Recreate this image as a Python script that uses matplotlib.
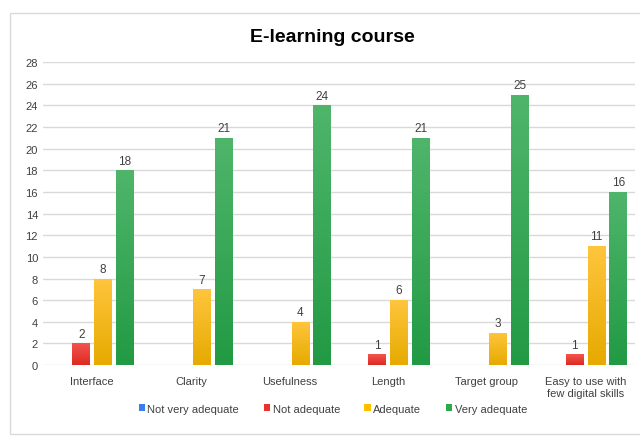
import numpy as np
import matplotlib.pyplot as plt
from matplotlib.colors import LinearSegmentedColormap
from matplotlib.patches import Rectangle

plt.rcParams['font.family'] = ['Liberation Sans', 'DejaVu Sans']

categories = ['Interface', 'Clarity', 'Usefulness', 'Length', 'Target group',
              'Easy to use with\nfew digital skills']
series_names = ['Not very adequate', 'Not adequate', 'Adequate', 'Very adequate']
not_very_adequate = [0, 0, 0, 0, 0, 0]
not_adequate = [2, 0, 0, 1, 0, 1]
adequate = [8, 7, 4, 6, 3, 11]
very_adequate = [18, 21, 24, 21, 25, 16]
series = [not_very_adequate, not_adequate, adequate, very_adequate]

# (top colour, bottom colour, legend colour)
colors = [('#5a93f0', '#2f6fd6', '#3b7ee8'),
          ('#f2554d', '#dd2a22', '#e8342c'),
          ('#ffc53d', '#e6aa00', '#ffc000'),
          ('#4fb56b', '#229a44', '#2ea84d')]

fig = plt.figure(figsize=(6.4, 4.39), dpi=100)
fig.patches.append(Rectangle((10 / 640, 4 / 439), 640 / 640, 421 / 439,
                             transform=fig.transFigure, fill=False,
                             edgecolor='#d9d9d9', linewidth=1))
ax = fig.add_axes([0.067, 0.166, 0.925, 0.69])

x = np.arange(len(categories))
slot = 0.222
width = 0.182
grad = np.linspace(0, 1, 100).reshape(-1, 1)

for i, (vals, (top, bot, _)) in enumerate(zip(series, colors)):
    cmap = LinearSegmentedColormap.from_list('g%d' % i, [bot, top])
    offs = (i - 1.5) * slot
    for xi, v in zip(x, vals):
        if v <= 0:
            continue
        x0 = xi + offs - width / 2
        im = ax.imshow(grad, cmap=cmap, aspect='auto', origin='lower',
                       extent=(x0, x0 + width, 0, v), zorder=2)
        rect = Rectangle((x0, 0), width, v, facecolor='none', edgecolor='none')
        ax.add_patch(rect)
        im.set_clip_path(rect)
        ax.text(xi + offs, v + 0.35, str(v), ha='center', va='bottom',
                fontsize=8.5, color='#404040', zorder=3)

for j, name in enumerate(series_names):
    ax.bar([0], [0], color=colors[j][2], label=name)

ax.set_xlim(-0.5, len(categories) - 0.5)
ax.set_ylim(0, 28)
ax.set_yticks(np.arange(0, 29, 2))
ax.set_xticks(x)
ax.set_xticklabels(categories)
ax.tick_params(axis='both', length=0, labelsize=8, colors='#404040')
ax.tick_params(axis='x', pad=8)
ax.yaxis.grid(True, color='#d9d9d9', linewidth=1, zorder=0)
ax.set_axisbelow(True)
for s in ax.spines.values():
    s.set_visible(False)

fig.text(0.52, 0.915, 'E-learning course', ha='center', va='center',
         fontsize=14, fontweight='bold', color='black')

fig.legend(loc='center', bbox_to_anchor=(0.52, 0.067), ncol=4, frameon=False,
           fontsize=8, handlelength=0.6, handleheight=0.6, handletextpad=0.2,
           columnspacing=2.2, labelcolor='#404040')

fig.savefig('out.png', dpi=100)
